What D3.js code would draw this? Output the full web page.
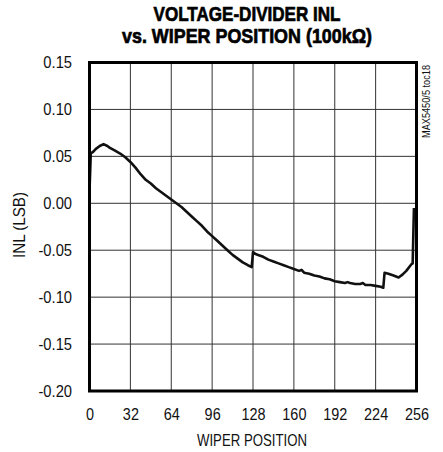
<!DOCTYPE html>
<html>
<head>
<meta charset="utf-8">
<script src="https://cdn.jsdelivr.net/npm/d3@7"></script>
<style>
  html, body { margin: 0; padding: 0; background: #fff; }
  svg { display: block; }
  .f { font-family: "Liberation Sans", Arial, Helvetica, sans-serif; }
</style>
</head>
<body>
<svg id="chart" width="443" height="452"></svg>
<script>
// ---- Data ----
const titleLines = ["VOLTAGE-DIVIDER INL", "vs. WIPER POSITION (100k\u03A9)"];
const xTicks = [0, 32, 64, 96, 128, 160, 192, 224, 256];
const yTicks = [0.15, 0.10, 0.05, 0.00, -0.05, -0.10, -0.15, -0.20];
const yTickLabels = ["0.15", "0.10", "0.05", "0.00", "-0.05", "-0.10", "-0.15", "-0.20"];
const xLabel = "WIPER POSITION";
const yLabel = "INL (LSB)";
const sideNote = "MAX5450/5 toc18";

const wiper = [0, 1, 3, 5, 8, 11, 14, 16, 20, 24, 28, 32, 36, 40, 44, 48, 52, 56, 60, 64,
  68, 72, 76, 80, 84, 88, 92, 96, 100, 104, 108, 112, 116, 120, 124, 127,
  128, 130, 132, 136, 140, 144, 148, 152, 156, 160, 164, 166, 168, 172, 176, 180, 184, 188, 192,
  196, 200, 202, 204, 208, 212, 214, 216, 220, 224, 228, 230,
  231, 234, 238, 242, 245, 248, 252, 253, 254];
const inl = [0.013, 0.053, 0.055, 0.058, 0.061, 0.063, 0.061, 0.059, 0.056, 0.053, 0.049, 0.044, 0.038, 0.031, 0.025, 0.021, 0.016, 0.012, 0.008, 0.004,
  0.000, -0.004, -0.009, -0.014, -0.019, -0.024, -0.030, -0.035, -0.040, -0.045, -0.050, -0.055, -0.059, -0.063, -0.066, -0.068,
  -0.052, -0.054, -0.055, -0.057, -0.060, -0.062, -0.064, -0.066, -0.068, -0.070, -0.072, -0.071, -0.074, -0.075, -0.077, -0.078, -0.080, -0.081, -0.083,
  -0.084, -0.085, -0.084, -0.085, -0.086, -0.086, -0.085, -0.087, -0.087, -0.088, -0.089, -0.090,
  -0.074, -0.075, -0.077, -0.079, -0.076, -0.072, -0.065, -0.064, -0.005];

// ---- Layout ----
const svg = d3.select("#chart");
const x = d3.scaleLinear().domain([0, 256]).range([89.5, 416.5]);
const y = d3.scaleLinear().domain([-0.20, 0.15]).range([391, 62.5]);

// compress text horizontally (condensed look)
function squeeze(sel, f) {
  sel.each(function () {
    const w = this.getComputedTextLength();
    d3.select(this).attr("textLength", w * f).attr("lengthAdjust", "spacingAndGlyphs");
  });
}
function fitTo(sel, target) {
  sel.attr("textLength", target).attr("lengthAdjust", "spacingAndGlyphs");
}

// Title
const t = svg.append("g").selectAll("text").data(titleLines).join("text")
  .attr("class", "f")
  .attr("x", 247).attr("y", (d, i) => 20.5 + i * 22.5)
  .attr("text-anchor", "middle")
  .attr("font-size", 21).attr("font-weight", "bold")
  .attr("stroke", "#000").attr("stroke-width", 0.7)
  .text(d => d);
t.each(function (d, i) { fitTo(d3.select(this), i === 0 ? 187 : 250); });

// Grid
const grid = svg.append("g");
grid.selectAll("line.v").data(xTicks.slice(1, -1)).join("line")
  .attr("x1", d => x(d)).attr("x2", d => x(d))
  .attr("y1", y(0.15)).attr("y2", y(-0.20))
  .attr("stroke", "#333").attr("stroke-width", 1);
grid.selectAll("line.h").data(yTicks.slice(1, -1)).join("line")
  .attr("x1", x(0)).attr("x2", x(256))
  .attr("y1", d => y(d)).attr("y2", d => y(d))
  .attr("stroke", "#333").attr("stroke-width", 1);

// Axes (labels only)
const xAxis = d3.axisBottom(x).tickValues(xTicks).tickSize(0).tickPadding(0);
const gx = svg.append("g").attr("transform", `translate(0,420)`).call(xAxis);
gx.select(".domain").remove();
gx.selectAll("text").attr("class", "f").attr("font-size", 16).attr("fill", "#111").attr("dy", "0").attr("y", 0);
squeeze(gx.selectAll("text"), 0.9);

const yAxis = d3.axisLeft(y).tickValues(yTicks).tickFormat((d, i) => yTickLabels[i]).tickSize(0).tickPadding(0);
const gy = svg.append("g").attr("transform", `translate(72,0)`).call(yAxis);
gy.select(".domain").remove();
gy.selectAll("text").attr("class", "f").attr("font-size", 16).attr("fill", "#111");
squeeze(gy.selectAll("text"), 0.92);

// Axis titles
fitTo(svg.append("text").attr("class", "f")
  .attr("x", 252).attr("y", 446).attr("text-anchor", "middle")
  .attr("font-size", 17).attr("fill", "#111").text(xLabel), 110);
fitTo(svg.append("text").attr("class", "f")
  .attr("transform", "translate(25,225) rotate(-90)").attr("text-anchor", "middle")
  .attr("font-size", 16).attr("fill", "#111").text(yLabel), 66);
fitTo(svg.append("text").attr("class", "f")
  .attr("transform", "translate(430,65) rotate(-90)").attr("text-anchor", "end")
  .attr("font-size", 10).attr("fill", "#111").text(sideNote), 73);

// Data line
const pts = wiper.map((w, i) => [w, inl[i]]);
svg.append("path").datum(pts)
  .attr("fill", "none").attr("stroke", "#111").attr("stroke-width", 2.6)
  .attr("stroke-linejoin", "round")
  .attr("d", d3.line().x(d => x(d[0])).y(d => y(d[1])));

// Frame
svg.append("rect")
  .attr("x", x(0)).attr("y", y(0.15))
  .attr("width", x(256) - x(0)).attr("height", y(-0.20) - y(0.15))
  .attr("fill", "none").attr("stroke", "#000").attr("stroke-width", 3);
</script>
</body>
</html>
